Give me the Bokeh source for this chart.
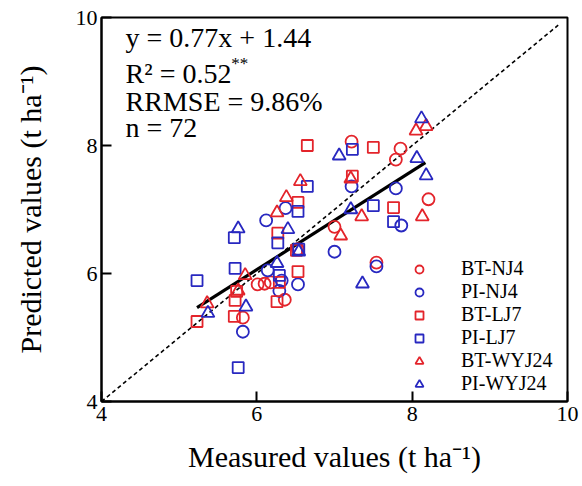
from bokeh.plotting import figure
from bokeh.models import Range1d, FixedTicker, Label, Legend, LegendItem
from bokeh.embed import file_html
from bokeh.resources import INLINE

# ---- data (measured, predicted) ----
bt_nj4_x = [7.22, 7.85, 7.79, 8.21, 7.00, 7.54, 6.10, 6.18, 6.36, 5.82, 6.53, 6.01]
bt_nj4_y = [8.06, 7.95, 7.78, 7.16, 6.73, 6.17, 5.84, 5.86, 5.59, 5.31, 6.38, 5.83]

pi_nj4_x = [7.22, 7.79, 7.86, 6.37, 6.12, 7.00, 6.14, 7.54, 6.53, 6.29, 5.82, 6.32]
pi_nj4_y = [7.36, 7.33, 6.75, 7.02, 6.83, 6.34, 6.05, 6.11, 5.83, 5.73, 5.09, 5.89]

bt_lj7_x = [6.65, 7.50, 7.23, 6.53, 7.76, 6.27, 6.51, 6.53, 6.29, 6.26, 5.74, 5.72, 5.71, 5.23]
bt_lj7_y = [8.00, 7.97, 7.52, 7.11, 7.03, 6.63, 6.36, 6.03, 5.86, 5.56, 5.72, 5.58, 5.33, 5.25]

pi_lj7_x = [7.23, 6.65, 6.53, 7.50, 7.76, 5.71, 6.27, 5.72, 5.23, 6.29, 5.76, 6.54]
pi_lj7_y = [7.94, 7.36, 6.97, 7.06, 6.81, 6.56, 6.48, 6.08, 5.89, 5.97, 4.53, 6.38]

bt_wyj24_x = [8.05, 8.18, 6.56, 7.21, 6.38, 6.26, 7.35, 7.08, 8.13, 5.85, 5.76, 5.36]
bt_wyj24_y = [8.23, 8.30, 7.44, 7.48, 7.19, 6.95, 6.89, 6.59, 6.89, 5.97, 5.73, 5.53]

pi_wyj24_x = [8.12, 7.06, 8.06, 8.18, 7.21, 5.76, 6.40, 6.54, 6.26, 7.36, 5.86, 5.37]
pi_wyj24_y = [8.42, 7.84, 7.80, 7.53, 7.00, 6.70, 6.69, 6.34, 6.16, 5.84, 5.48, 5.38]

slope = 0.77
intercept = 1.44
fit_x = [5.23, 8.17]
one_to_one = [4.0, 9.88]

ticks = [4, 6, 8, 10]
stats_lines = ["y = 0.77x + 1.44", "R\u00b2 = 0.52", "RRMSE = 9.86%", "n = 72"]
legend_labels = ["BT-NJ4", "PI-NJ4", "BT-LJ7", "PI-LJ7", "BT-WYJ24", "PI-WYJ24"]

RED = "#e3242b"
BLUE = "#2828c0"
FONT = "Liberation Serif"

p = figure(frame_width=466, frame_height=384,
           x_range=Range1d(4, 10), y_range=Range1d(4, 10),
           output_backend="svg", toolbar_location=None,
           min_border_left=101, min_border_right=14,
           min_border_top=17, min_border_bottom=84,
           background_fill_color="white", border_fill_color="white")

p.xgrid.visible = False
p.ygrid.visible = False
p.outline_line_color = "black"
p.outline_line_width = 2
p.outline_line_alpha = 1

for ax in (p.xaxis[0], p.yaxis[0]):
    ax.ticker = FixedTicker(ticks=ticks)
    ax.major_tick_in = 10
    ax.major_tick_out = 0
    ax.minor_tick_in = 0
    ax.minor_tick_out = 0
    ax.axis_line_width = 2
    ax.axis_line_color = "black"
    ax.major_tick_line_width = 2
    ax.major_tick_line_color = "black"
    ax.major_label_text_font = FONT
    ax.major_label_text_font_size = "22px"
    ax.major_label_text_color = "black"
    ax.axis_label_text_font = FONT
    ax.axis_label_text_font_size = "30px"
    ax.axis_label_text_font_style = "normal"
    ax.axis_label_text_color = "black"

p.xaxis[0].axis_label = "Measured values (t ha\u207b\u00b9)"
p.yaxis[0].axis_label = "Predicted values (t ha\u207b\u00b9)"
p.xaxis[0].major_label_standoff = 5
p.yaxis[0].major_label_standoff = 4
p.xaxis[0].axis_label_standoff = 16
p.yaxis[0].axis_label_standoff = 26

# 1:1 line
p.line(one_to_one, one_to_one, line_color="black", line_width=1.6, line_dash="4 3")
# regression line
p.line(fit_x, [slope * v + intercept for v in fit_x], line_color="black", line_width=3.2)

kw = dict(fill_color=None, line_width=1.8)
r1 = p.scatter(bt_nj4_x, bt_nj4_y, marker="circle", size=12, line_color=RED, **kw)
r2 = p.scatter(pi_nj4_x, pi_nj4_y, marker="circle", size=12, line_color=BLUE, **kw)
r3 = p.scatter(bt_lj7_x, bt_lj7_y, marker="square", size=11, line_color=RED, **kw)
r4 = p.scatter(pi_lj7_x, pi_lj7_y, marker="square", size=11, line_color=BLUE, **kw)
r5 = p.scatter(bt_wyj24_x, bt_wyj24_y, marker="triangle", size=13, line_color=RED, **kw)
r6 = p.scatter(pi_wyj24_x, pi_wyj24_y, marker="triangle", size=13, line_color=BLUE, **kw)

legend = Legend(items=[LegendItem(label=lab, renderers=[r])
                       for lab, r in zip(legend_labels, [r1, r2, r3, r4, r5, r6])],
                location=(308, 6), padding=0, margin=0, spacing=0,
                glyph_width=20, glyph_height=22, label_height=22, label_standoff=32,
                border_line_color=None, background_fill_alpha=0,
                label_text_font=FONT, label_text_font_size="20px",
                label_text_color="black")
p.add_layout(legend)

stats_y = [9.69, 9.13, 8.69, 8.28]
for txt, yy in zip(stats_lines, stats_y):
    p.add_layout(Label(x=4.31, y=yy, text=txt, text_font=FONT, text_font_size="28px",
                       text_baseline="alphabetic", text_color="black"))
p.add_layout(Label(x=5.67, y=9.28, text="**", text_font=FONT, text_font_size="17px",
                   text_baseline="alphabetic", text_color="black"))

open("out.html", "w").write(file_html(p, INLINE))
